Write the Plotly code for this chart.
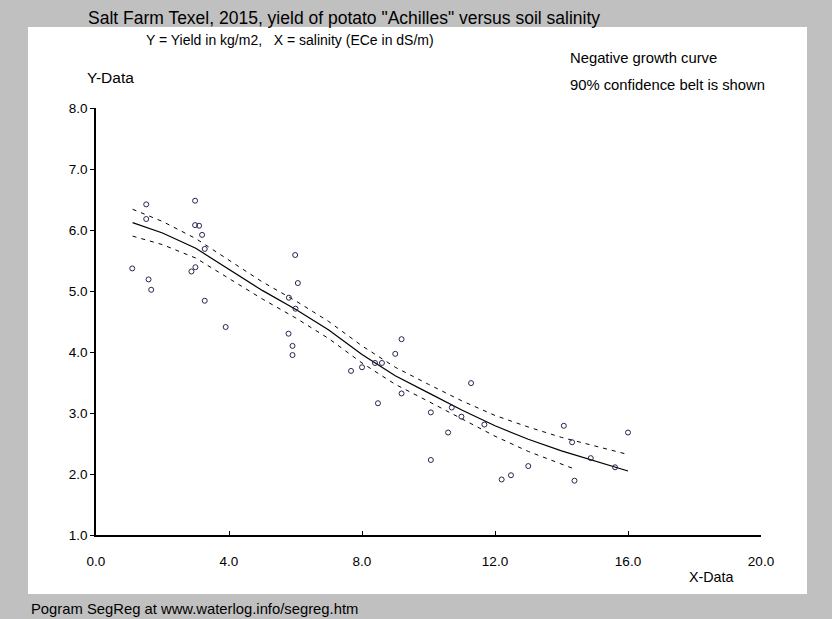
import plotly.graph_objects as go

# ---- data ----
salinity = [1.09, 1.51, 1.51, 1.58, 1.66, 2.98, 2.98, 3.10, 3.19, 3.27, 2.99, 2.87, 3.27, 3.90,
            5.99, 6.07, 5.80, 6.00, 5.79, 5.91, 5.91, 9.19, 9.00, 8.60, 8.39, 8.00, 7.67,
            11.28, 9.19, 8.48, 10.70, 10.07, 10.99, 11.68, 10.59, 10.07,
            14.07, 16.00, 14.32, 14.88, 15.61, 13.00, 12.48, 12.20, 14.39]
yield_kg = [5.37, 6.42, 6.18, 5.19, 5.02, 6.48, 6.08, 6.07, 5.92, 5.69, 5.39, 5.32, 4.84, 4.41,
            5.59, 5.13, 4.89, 4.71, 4.30, 4.10, 3.95, 4.21, 3.97, 3.82, 3.82, 3.75, 3.69,
            3.49, 3.32, 3.16, 3.09, 3.01, 2.94, 2.81, 2.68, 2.23,
            2.79, 2.68, 2.52, 2.26, 2.11, 2.13, 1.98, 1.91, 1.89]

curve_x = [1.1, 2, 3, 4, 5, 6, 7, 8, 9, 10, 11, 12, 13, 14, 15, 16]
curve_y = [6.12, 5.95, 5.70, 5.36, 5.01, 4.70, 4.36, 3.96, 3.61, 3.33, 3.05, 2.79, 2.57, 2.38, 2.21, 2.05]
upper_y = [6.34, 6.14, 5.86, 5.51, 5.15, 4.84, 4.50, 4.10, 3.75, 3.47, 3.20, 2.96, 2.77, 2.60, 2.46, 2.32]
lower_x = [1.1, 2, 3, 4, 5, 6, 7, 8, 9, 10, 11, 12, 13, 14, 14.4]
lower_y = [5.90, 5.76, 5.54, 5.21, 4.87, 4.56, 4.22, 3.82, 3.47, 3.19, 2.90, 2.62, 2.37, 2.16, 2.08]

x_ticks = [0, 4, 8, 12, 16, 20]
x_ticklabels = ["0.0", "4.0", "8.0", "12.0", "16.0", "20.0"]
y_ticks = [1, 2, 3, 4, 5, 6, 7, 8]
y_ticklabels = ["1.0", "2.0", "3.0", "4.0", "5.0", "6.0", "7.0", "8.0"]

# ---- layout geometry (pixels) ----
W, H = 832, 619
L, R, T, B = 96, 761, 108, 535


def px(x):
    return (x - L) / (R - L)


def py(y):
    return (B - y) / (B - T)


FONT = "Arial, Liberation Sans, sans-serif"

fig = go.Figure()
fig.add_trace(go.Scatter(x=curve_x, y=upper_y, mode="lines",
                         line=dict(color="black", width=1, dash="4px,5px"), hoverinfo="skip"))
fig.add_trace(go.Scatter(x=lower_x, y=lower_y, mode="lines",
                         line=dict(color="black", width=1, dash="4px,5px"), hoverinfo="skip"))
fig.add_trace(go.Scatter(x=curve_x, y=curve_y, mode="lines",
                         line=dict(color="black", width=1.2), hoverinfo="skip"))
fig.add_trace(go.Scatter(x=salinity, y=yield_kg, mode="markers",
                         marker=dict(symbol="circle-open", size=5, color="#262650",
                                     line=dict(width=1, color="#262650"))))

# white panel
fig.add_shape(type="rect", xref="paper", yref="paper", layer="below",
              x0=px(28), x1=px(807), y0=py(594), y1=py(27),
              fillcolor="white", line=dict(width=0))


def ann(text, x, y, size):
    fig.add_annotation(text=text, xref="paper", yref="paper", x=px(x), y=py(y),
                       xanchor="left", yanchor="middle", showarrow=False,
                       font=dict(family=FONT, size=size, color="black"))


ann('Salt Farm Texel, 2015, yield of potato "Achilles" versus soil salinity', 86, 18, 17.5)
ann("Y = Yield in kg/m2,\u00a0\u00a0 X = salinity (ECe in dS/m)", 144, 40, 14)
ann("Negative growth curve", 568, 58, 14.8)
ann("90% confidence belt is shown", 568, 85, 14.8)
ann("Y-Data", 85, 78, 15.5)
ann("X-Data", 687, 577, 14.3)
ann("Pogram SegReg at www.waterlog.info/segreg.htm", 29, 609, 14.8)

fig.update_layout(
    width=W, height=H, autosize=False,
    margin=dict(l=L, r=W - R, t=T, b=H - B, pad=0),
    paper_bgcolor="#c0c0c0", plot_bgcolor="rgba(0,0,0,0)",
    showlegend=False,
    font=dict(family=FONT, size=13, color="black"),
    xaxis=dict(range=[0, 20], tickvals=x_ticks, ticktext=x_ticklabels,
               showgrid=False, zeroline=False, showline=True, linecolor="black", linewidth=1.5,
               ticks="inside", ticklen=4, tickcolor="black", tickwidth=1,
               ticklabelstandoff=13, tickfont=dict(size=13.5)),
    yaxis=dict(range=[1, 8], tickvals=y_ticks, ticktext=y_ticklabels,
               showgrid=False, zeroline=False, showline=True, linecolor="black", linewidth=1.5,
               ticks="outside", ticklen=4, tickcolor="black", tickwidth=1,
               tickfont=dict(size=13.5)),
)

fig.write_html(
    "out.html",
    config={"displayModeBar": False},
    post_script="document.body.style.margin='0';document.body.style.overflow='hidden';"
                "document.body.style.background='#c0c0c0';",
)
